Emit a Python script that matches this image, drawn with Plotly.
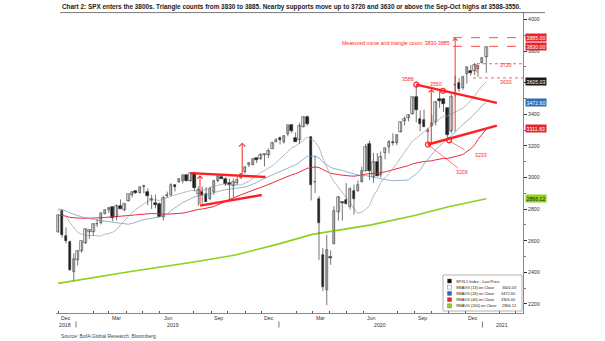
import pandas as pd
import plotly.graph_objects as go

# ---------------- data ----------------
# weekly S&P 500 bars, dated at the week's last trading day
week = [
    "2018-11-30", "2018-12-07", "2018-12-14", "2018-12-21", "2018-12-28",
    "2019-01-04", "2019-01-11", "2019-01-18", "2019-01-25", "2019-02-01",
    "2019-02-08", "2019-02-15", "2019-02-22", "2019-03-01", "2019-03-08",
    "2019-03-15", "2019-03-22", "2019-03-29", "2019-04-05", "2019-04-12",
    "2019-04-18", "2019-04-26", "2019-05-03", "2019-05-10", "2019-05-17",
    "2019-05-24", "2019-05-31", "2019-06-07", "2019-06-14", "2019-06-21",
    "2019-06-28", "2019-07-05", "2019-07-12", "2019-07-19", "2019-07-26",
    "2019-08-02", "2019-08-09", "2019-08-16", "2019-08-23", "2019-08-30",
    "2019-09-06", "2019-09-13", "2019-09-20", "2019-09-27", "2019-10-04",
    "2019-10-11", "2019-10-18", "2019-10-25", "2019-11-01", "2019-11-08",
    "2019-11-15", "2019-11-22", "2019-11-29", "2019-12-06", "2019-12-13",
    "2019-12-20", "2019-12-27", "2020-01-03", "2020-01-10", "2020-01-17",
    "2020-01-24", "2020-01-31", "2020-02-07", "2020-02-14", "2020-02-21",
    "2020-02-28", "2020-03-06", "2020-03-13", "2020-03-20", "2020-03-27",
    "2020-04-03", "2020-04-09", "2020-04-17", "2020-04-24", "2020-05-01",
    "2020-05-08", "2020-05-15", "2020-05-22", "2020-05-29", "2020-06-05",
    "2020-06-12", "2020-06-19", "2020-06-26", "2020-07-02", "2020-07-10",
    "2020-07-17", "2020-07-24", "2020-07-31", "2020-08-07", "2020-08-14",
    "2020-08-21", "2020-08-28", "2020-09-04", "2020-09-11", "2020-09-18",
    "2020-09-25", "2020-10-02", "2020-10-09", "2020-10-16", "2020-10-23",
    "2020-10-30", "2020-11-06", "2020-11-13", "2020-11-20", "2020-11-27",
    "2020-12-04", "2020-12-11", "2020-12-18", "2020-12-24", "2020-12-31",
    "2021-01-08",
]
open_ = [
    2654, 2790, 2630, 2591, 2401, 2476, 2535, 2586, 2652, 2657,
    2703, 2712, 2769, 2797, 2814, 2747, 2822, 2796, 2849, 2892,
    2916, 2904, 2940, 2908, 2859, 2841, 2830, 2751, 2886, 2887,
    2952, 2972, 2979, 3018, 2978, 3026, 2898, 2906, 2897, 2866,
    2909, 2981, 3001, 2991, 2968, 2944, 2966, 2996, 3032, 3078,
    3081, 3123, 3117, 3144, 3142, 3183, 3227, 3247, 3226, 3273,
    3333, 3247, 3235, 3318, 3380, 3258, 2974, 2864, 2509, 2290,
    2498, 2578, 2782, 2845, 2855, 2815, 2915, 2913, 2969, 3039,
    3213, 3006, 3095, 3018, 3155, 3191, 3224, 3218, 3289, 3356,
    3378, 3402, 3507, 3371, 3363, 3285, 3324, 3350, 3500, 3494,
    3441, 3296, 3583, 3600, 3566, 3653, 3675, 3677, 3684, 3723,
    3764,
]
high = [
    2760, 2800, 2685, 2601, 2520, 2538, 2597, 2675, 2672, 2708,
    2738, 2775, 2795, 2814, 2816, 2830, 2861, 2836, 2893, 2910,
    2918, 2940, 2955, 2932, 2891, 2892, 2841, 2885, 2911, 2964,
    2956, 2995, 3014, 3018, 3028, 3027, 2944, 2943, 2939, 2941,
    2985, 3021, 3022, 3002, 2993, 2993, 3008, 3027, 3067, 3098,
    3121, 3127, 3155, 3150, 3183, 3226, 3248, 3259, 3268, 3330,
    3338, 3285, 3347, 3385, 3393, 3260, 3137, 2883, 2555, 2637,
    2539, 2819, 2880, 2846, 2965, 2938, 2955, 2981, 3069, 3212,
    3233, 3155, 3155, 3165, 3186, 3238, 3280, 3272, 3352, 3387,
    3399, 3509, 3588, 3425, 3429, 3314, 3397, 3482, 3550, 3502,
    3441, 3529, 3645, 3628, 3644, 3700, 3712, 3726, 3711, 3760,
    3826,
]
low = [
    2649, 2621, 2583, 2409, 2346, 2443, 2524, 2580, 2612, 2631,
    2687, 2703, 2767, 2775, 2723, 2728, 2800, 2786, 2848, 2874,
    2896, 2898, 2900, 2825, 2801, 2805, 2752, 2728, 2872, 2884,
    2912, 2966, 2963, 2975, 2974, 2914, 2822, 2834, 2847, 2856,
    2891, 2969, 2993, 2946, 2856, 2874, 2953, 2991, 3024, 3066,
    3078, 3091, 3113, 3070, 3124, 3183, 3223, 3210, 3214, 3261,
    3280, 3225, 3214, 3318, 3328, 2855, 2901, 2479, 2281, 2192,
    2447, 2578, 2727, 2727, 2831, 2797, 2766, 2910, 2969, 3039,
    2984, 2966, 3007, 3001, 3115, 3153, 3202, 3205, 3285, 3329,
    3355, 3398, 3349, 3293, 3320, 3209, 3324, 3330, 3441, 3415,
    3233, 3279, 3511, 3543, 3555, 3594, 3645, 3647, 3636, 3723,
    3663,
]
close = [
    2760, 2633, 2600, 2417, 2486, 2532, 2596, 2671, 2665, 2707,
    2708, 2776, 2793, 2804, 2743, 2822, 2800, 2834, 2893, 2907,
    2905, 2940, 2946, 2881, 2860, 2826, 2752, 2873, 2887, 2950,
    2942, 2990, 3014, 2977, 3026, 2932, 2919, 2889, 2847, 2926,
    2979, 3007, 2992, 2962, 2952, 2970, 2986, 3023, 3067, 3093,
    3120, 3110, 3141, 3146, 3169, 3221, 3240, 3235, 3265, 3330,
    3295, 3226, 3328, 3380, 3338, 2954, 2972, 2711, 2305, 2541,
    2489, 2790, 2875, 2837, 2831, 2930, 2864, 2955, 3044, 3194,
    3041, 3098, 3009, 3130, 3185, 3225, 3216, 3271, 3351, 3373,
    3397, 3508, 3427, 3341, 3319, 3298, 3348, 3477, 3484, 3465,
    3270, 3510, 3585, 3558, 3638, 3699, 3663, 3709, 3703, 3756,
    3824,
]

# weekly closes Feb-Nov 2018, seeding the moving averages
prior_close = [
    2762, 2620, 2732, 2747, 2691, 2786, 2752, 2588, 2641, 2604,
    2656, 2670, 2670, 2663, 2728, 2713, 2721, 2735, 2779, 2780,
    2755, 2718, 2760, 2801, 2802, 2819, 2840, 2833, 2850, 2875,
    2902, 2872, 2905, 2930, 2914, 2886, 2767, 2768, 2659, 2723,
    2781, 2736, 2633,
]

# 200-week average
sma200_date = ["2018-11-30", "2019-04-01", "2019-08-01", "2019-10-15", "2020-01-01",
               "2020-03-01", "2020-06-15", "2020-09-01", "2020-11-01", "2021-01-08"]
sma200_val = [2330, 2400, 2465, 2510, 2580, 2640, 2700, 2760, 2815, 2866]

# right-axis value tags
tag_val = [3885.00, 3830.00, 3605.03, 3472.60, 3311.83, 2866.12]
tag_fill = ["#e3262e", "#e3262e", "#1a1a1a", "#2d6fb5", "#e3262e", "#8cd11f"]
tag_font = ["white", "white", "white", "white", "white", "#1a1a1a"]

# legend rows
legend_name = ["SPXL1 Index - Last Price", "SMAVG (13) on Close", "SMAVG (26) on Close",
               "SMAVG (40) on Close", "SMAVG (200) on Close"]
legend_value = ["", "3605.03", "3472.60", "3305.00", "2866.12"]
legend_color = ["#111111", "#ffffff", "#2d6fb5", "#e3262e", "#8cd11f"]

# x-axis labels
month_label = ["Dec", "Mar", "Jun", "Sep", "Dec", "Mar", "Jun", "Sep", "Dec"]
month_mid = ["2018-12-14", "2019-03-15", "2019-06-15", "2019-09-15", "2019-12-15",
             "2020-03-15", "2020-06-15", "2020-09-15", "2020-12-15"]
year_label = ["2018", "2019", "2020", "2021"]
year_pos = ["2018-12-12", "2019-06-25", "2020-07-01", "2021-02-05"]
year_start = ["2019-01-01", "2020-01-01", "2021-01-01"]

RED = "#ff1f1f"
DAY_MS = 86400000
FONT = "Liberation Sans"

# plot area in pixels
L, R, T, B = 56, 523, 12, 313


def px(x):
    return (x - L) / (R - L)


def py(y):
    return (B - y) / (B - T)


# ---------------- moving averages ----------------
all_close = pd.Series(prior_close + close, dtype=float)
n0 = len(prior_close)
sma13 = all_close.rolling(13).mean().iloc[n0:].tolist()
sma26 = all_close.rolling(26).mean().iloc[n0:].tolist()
sma40 = all_close.rolling(40).mean().iloc[n0:].tolist()

fig = go.Figure()

fig.add_trace(go.Scatter(x=sma200_date, y=sma200_val, mode="lines",
                         line=dict(color="#8cd11f", width=1.6), hoverinfo="skip"))
fig.add_trace(go.Scatter(x=week, y=sma40, mode="lines",
                         line=dict(color="#ee2a3c", width=1.0), hoverinfo="skip"))
fig.add_trace(go.Scatter(x=week, y=sma26, mode="lines",
                         line=dict(color="#7f9fbc", width=0.8), hoverinfo="skip"))
fig.add_trace(go.Scatter(x=week, y=sma13, mode="lines",
                         line=dict(color="#a8a8a8", width=0.8), hoverinfo="skip"))

# ---------------- candles ----------------
wx, wy = [], []
for d, h, l in zip(week, high, low):
    wx += [d, d, None]
    wy += [l, h, None]
fig.add_trace(go.Scatter(x=wx, y=wy, mode="lines",
                         line=dict(color="#3a3a3a", width=0.7), hoverinfo="skip"))

body_base = [min(o, c) for o, c in zip(open_, close)]
body_len = [max(abs(c - o), 2) for o, c in zip(open_, close)]
body_fill = ["#ffffff" if c >= o else "#111111" for o, c in zip(open_, close)]
fig.add_trace(go.Bar(x=week, y=body_len, base=body_base, width=4.5 * DAY_MS,
                     marker=dict(color=body_fill, line=dict(color="#333333", width=0.6)),
                     hoverinfo="skip"))

# ---------------- annotations drawn on the price scale ----------------
shapes = []


def seg(x0, y0, x1, y1, width=2.4, color=RED, dash="solid", xref="x"):
    shapes.append(dict(type="line", xref=xref, yref="y", x0=x0, y0=y0, x1=x1, y1=y1,
                       line=dict(color=color, width=width, dash=dash), layer="above"))


# 2019 triangle
seg("2019-07-26", 3028, "2019-12-08", 3003)
seg("2019-08-12", 2822, "2019-12-01", 2889)
# 2020 triangle
seg("2020-09-04", 3588, "2021-01-27", 3472)
seg("2020-09-25", 3209, "2021-01-27", 3328)
# label leaders
seg("2020-09-25", 3209, "2020-11-18", 3060, width=0.6)
seg("2020-11-02", 3233, "2020-11-30", 3175, width=0.6)
# target and support lines
seg(px(453), 3885, px(546), 3885, width=0.8, dash="dash", xref="paper")
seg(px(453), 3830, px(546), 3830, width=0.8, dash="dash", xref="paper")
seg(px(477), 3720, px(523), 3720, width=0.7, dash="dot", xref="paper")
seg(px(473), 3630, px(523), 3630, width=0.7, dash="dot", xref="paper")
seg("2020-12-22", 3720, "2020-12-22", 3665, width=0.7, dash="dot")

annotations = []


def arrow(x, y0, y1, width=1.0, color=RED, size=1.0):
    annotations.append(dict(x=x, y=y1, ax=x, ay=y0, xref="x", yref="y", axref="x", ayref="y",
                            text="", showarrow=True, arrowhead=4, arrowsize=size,
                            arrowwidth=width, arrowcolor=color))


arrow("2019-08-12", 2822, 3015)
arrow("2019-10-27", 3015, 3222, width=1.2, color="#f05050")
arrow("2020-10-01", 3209, 3560)
arrow("2020-11-13", 3282, 3885, width=0.9)

fig.add_trace(go.Scatter(
    x=["2020-09-04", "2020-10-22", "2020-09-25", "2020-11-02"],
    y=[3588, 3549, 3209, 3235], mode="markers",
    marker=dict(symbol="circle-open", color=RED, size=5, line=dict(width=1.2)),
    hoverinfo="skip"))


def rtext(x, y, s, size=5.2, anchor="center", color=RED):
    annotations.append(dict(x=x, y=y, xref="x", yref="y", text=s, showarrow=False,
                            xanchor=anchor, yanchor="middle",
                            font=dict(size=size, color=color, family=FONT)))


rtext("2020-08-20", 3623, "3588")
rtext("2020-10-10", 3592, "3550")
rtext("2020-11-25", 3033, "3209")
rtext("2020-12-30", 3140, "3233")
rtext("2021-02-12", 3709, "3720")
rtext("2021-02-12", 3604, "3630")
rtext("2020-11-07", 3853, "Measured move and triangle count: 3830-3885", anchor="right")

# right-axis tags
for v, f, c in zip(tag_val, tag_fill, tag_font):
    annotations.append(dict(x=px(525), y=v, xref="paper", yref="y", text=f"{v:.2f}",
                            showarrow=False, xanchor="left", yanchor="middle",
                            bgcolor=f, borderpad=0.6,
                            font=dict(size=5.2, color=c, family=FONT)))

# x-axis labels
for d, m in zip(month_mid, month_label):
    annotations.append(dict(x=d, y=py(318), xref="x", yref="paper", text=m, showarrow=False,
                            xanchor="center", yanchor="middle",
                            font=dict(size=5.2, color="#333333", family=FONT)))
for d, ylab in zip(year_pos, year_label):
    annotations.append(dict(x=d, y=py(325), xref="x", yref="paper", text=ylab, showarrow=False,
                            xanchor="center", yanchor="middle",
                            font=dict(size=5.2, color="#333333", family=FONT)))
for d in year_start:
    shapes.append(dict(type="line", xref="x", yref="paper", x0=d, x1=d,
                       y0=py(321.5), y1=py(327.5), line=dict(color="#555555", width=0.8)))

# legend box
shapes.append(dict(type="rect", xref="paper", yref="paper", x0=px(443), x1=px(522),
                   y0=py(311), y1=py(275), fillcolor="white",
                   line=dict(color="#a0a0a0", width=0.8), layer="above"))
row_y = [281, 287.2, 293.4, 299.6, 305.8]
for yy, nm, val, col in zip(row_y, legend_name, legend_value, legend_color):
    shapes.append(dict(type="rect", xref="paper", yref="paper", x0=px(447.5), x1=px(451.5),
                       y0=py(yy + 2), y1=py(yy - 2), fillcolor=col,
                       line=dict(color="#555555", width=0.4), layer="above"))
    annotations.append(dict(x=px(454), y=py(yy), xref="paper", yref="paper", text=nm,
                            showarrow=False, xanchor="left", yanchor="middle",
                            font=dict(size=3.9, color="#222222", family=FONT)))
    if val:
        annotations.append(dict(x=px(518), y=py(yy), xref="paper", yref="paper", text=val,
                                showarrow=False, xanchor="right", yanchor="middle",
                                font=dict(size=3.9, color="#222222", family=FONT)))

# title and source
annotations.append(dict(x=px(60), y=py(7.2), xref="paper", yref="paper",
                        text="<b>Chart 2: SPX enters the 3800s. Triangle counts from 3830 to 3885. "
                             "Nearby supports move up to 3720 and 3630 or above the Sep-Oct highs "
                             "at 3588-3550.</b>",
                        showarrow=False, xanchor="left", yanchor="middle",
                        font=dict(size=6.4, color="#1a1a1a", family=FONT)))
shapes.append(dict(type="line", xref="paper", yref="paper", x0=px(60), x1=px(545),
                   y0=py(12.6), y1=py(12.6), line=dict(color="#555555", width=0.8)))
annotations.append(dict(x=px(59), y=py(336), xref="paper", yref="paper",
                        text="Source: BofA Global Research, Bloomberg", showarrow=False,
                        xanchor="left", yanchor="middle",
                        font=dict(size=5.0, color="#444444", family=FONT)))

fig.update_layout(
    width=605, height=341,
    margin=dict(l=L, r=605 - R, t=T, b=341 - B),
    paper_bgcolor="white", plot_bgcolor="white",
    showlegend=False, bargap=0,
    shapes=shapes, annotations=annotations,
)
fig.update_xaxes(
    type="date", range=["2018-11-26", "2021-03-15"],
    showticklabels=False, ticks="", showgrid=False, zeroline=False,
    showline=True, linecolor="#8a8a8a", linewidth=1,
    minor=dict(ticks="inside", ticklen=2, tickcolor="#555555", dtick="M1",
               tick0="2018-12-01", showgrid=False),
)
fig.update_yaxes(
    side="right", range=[2142.4, 4047.5], tick0=2200, dtick=200,
    ticks="outside", ticklen=3, tickcolor="#333333", tickwidth=0.8,
    tickfont=dict(size=5.2, color="#333333", family=FONT),
    tickformat="d",
    showgrid=False, zeroline=False, showline=True, linecolor="#8a8a8a", linewidth=1,
    minor=dict(ticks="outside", ticklen=1.5, tickcolor="#777777", dtick=100, showgrid=False),
)

fig.write_html("out.html")
